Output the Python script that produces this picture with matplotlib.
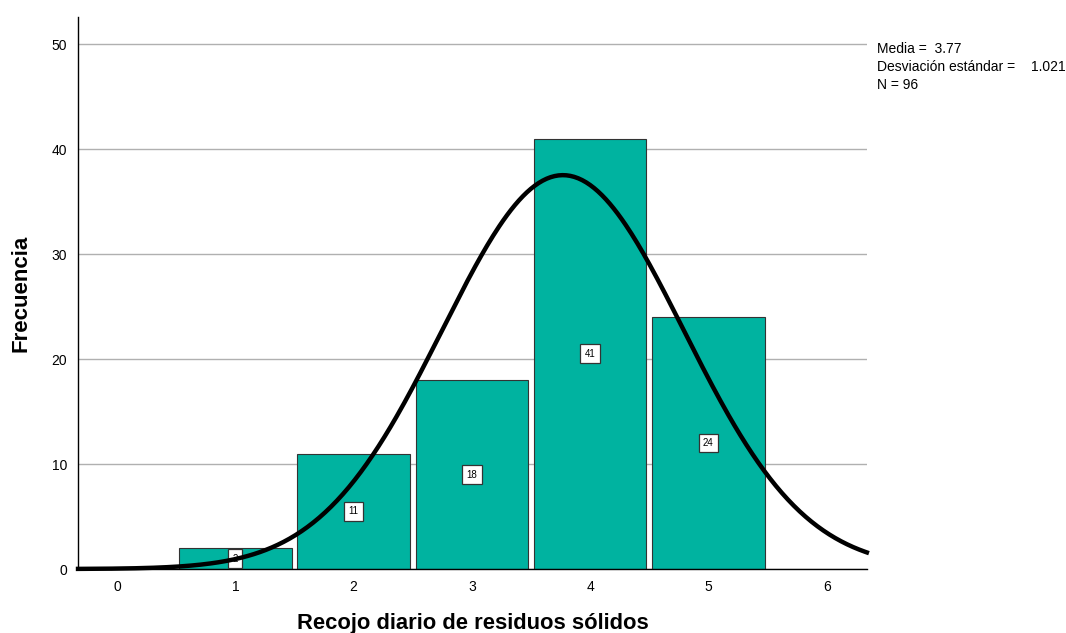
import numpy as np
import matplotlib.pyplot as plt

plt.rcParams['font.family'] = ['Liberation Sans', 'DejaVu Sans']

# datos del histograma
valores = [1, 2, 3, 4, 5]
frecuencias = [2, 11, 18, 41, 24]
media = 3.77
desv = 1.021
n = 96

fig = plt.figure(figsize=(10.66, 6.33), dpi=100)
ax = fig.add_axes([0.0732, 0.1011, 0.74, 0.872])

ax.bar(valores, frecuencias, width=0.95, color='#00b3a0', edgecolor='#333333',
       linewidth=0.8, zorder=2)

for v, f in zip(valores, frecuencias):
    ax.text(v, f / 2, str(f), ha='center', va='center', fontsize=7, zorder=3,
            bbox=dict(boxstyle='square,pad=0.45', fc='white', ec='#333333', lw=0.9))

x = np.linspace(-0.33, 6.34, 400)
y = n * 1.0 * np.exp(-0.5 * ((x - media) / desv) ** 2) / (desv * np.sqrt(2 * np.pi))
ax.plot(x, y, color='black', linewidth=3.2, zorder=4, clip_on=False)

ax.set_xlim(-0.33, 6.34)
ax.set_ylim(0, 52.57)
ax.set_xticks(range(0, 7))
ax.set_yticks(range(0, 51, 10))
ax.tick_params(length=0, labelsize=10, pad=8)
ax.yaxis.grid(True, color='#b0b0b0', linewidth=1, zorder=0)
ax.set_axisbelow(True)
for s in ['top', 'right']:
    ax.spines[s].set_visible(False)
ax.spines['left'].set_linewidth(1)
ax.spines['bottom'].set_linewidth(1)

fig.text(473 / 1066, 1 - 623 / 633, 'Recojo diario de residuos sólidos', fontsize=15.8,
         fontweight='bold', ha='center', va='center')
fig.text(21 / 1066, 1 - 293 / 633, 'Frecuencia', fontsize=16, fontweight='bold',
         ha='center', va='center', rotation=90)

fig.text(877 / 1066, 1 - 42 / 633, 'Media =  %.2f\nDesviación estándar =\nN = %d' % (media, n),
         fontsize=10, va='top', ha='left', linespacing=1.35)
fig.text(1031 / 1066, 1 - 67 / 633, '%.3f' % desv, fontsize=10, va='center', ha='left')

fig.savefig('out.png', dpi=100)
